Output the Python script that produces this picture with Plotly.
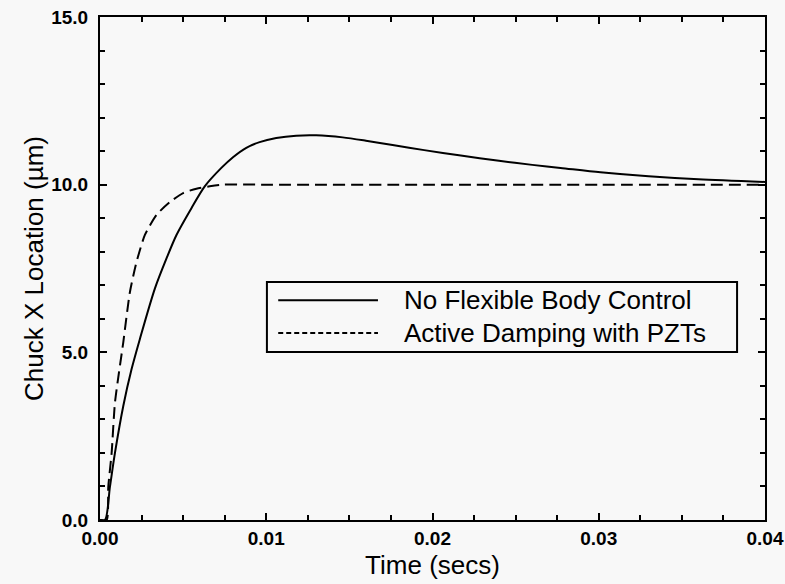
import plotly.graph_objects as go

# ---- data ----
t_nofbc = [0.0, 0.0003, 0.0006, 0.0009, 0.0014, 0.0019, 0.0024, 0.0033, 0.0040, 0.0046,
           0.0055, 0.0063, 0.0073, 0.0080, 0.0088, 0.0096, 0.0106, 0.0118, 0.0130, 0.0146,
           0.0160, 0.0176, 0.0195, 0.0217, 0.0240, 0.0260, 0.0277, 0.0301, 0.0330, 0.0360, 0.0400]
y_nofbc = [0.0, 0.0, 1.0, 2.0, 3.4, 4.5, 5.4, 6.9, 7.8, 8.5,
           9.3, 9.95, 10.5, 10.82, 11.1, 11.27, 11.39, 11.46, 11.47, 11.41,
           11.31, 11.18, 11.03, 10.87, 10.71, 10.59, 10.50, 10.37, 10.25, 10.16, 10.08]

t_pzt = [0.0, 0.0004, 0.0005, 0.0007, 0.0009, 0.0014, 0.0018, 0.0022, 0.0027, 0.0034,
         0.0042, 0.0050, 0.0058, 0.0066, 0.0074, 0.0100, 0.0200, 0.0300, 0.0400]
y_pzt = [0.0, 0.0, 1.0, 2.0, 3.5, 5.3, 6.8, 7.7, 8.5, 9.1,
         9.48, 9.75, 9.88, 9.95, 10.0, 10.0, 10.0, 10.0, 10.0]

x_ticks = [0.0, 0.01, 0.02, 0.03, 0.04]
x_ticklabels = ["0.00", "0.01", "0.02", "0.03", "0.04"]
y_ticks = [0.0, 5.0, 10.0, 15.0]
y_ticklabels = ["0.0", "5.0", "10.0", "15.0"]
legend_names = ["No Flexible Body Control", "Active Damping with PZTs"]

BG = "#f8f8f8"
FONT = "Liberation Sans, Arial, Helvetica, sans-serif"

fig = go.Figure()
fig.add_trace(go.Scatter(x=t_nofbc, y=y_nofbc, mode="lines", name=legend_names[0],
                         line=dict(color="black", width=2, shape="spline", smoothing=0.8),
                         showlegend=False))
fig.add_trace(go.Scatter(x=t_pzt, y=y_pzt, mode="lines", name=legend_names[1],
                         line=dict(color="black", width=2, dash="12px,6px", shape="spline",
                                   smoothing=0.6),
                         showlegend=False))

axis_common = dict(showgrid=False, zeroline=False, showline=True, linecolor="black",
                   linewidth=2, mirror="allticks", ticks="inside", tickcolor="black",
                   tickwidth=1.5, ticklen=7, automargin=False,
                   tickfont=dict(family=FONT, size=19, color="black", weight="bold"))

fig.update_xaxes(range=[0, 0.04], tickvals=x_ticks, ticktext=x_ticklabels,
                 title=dict(text="Time (secs)", font=dict(family=FONT, size=26, color="black"),
                            standoff=8),
                 minor=dict(dtick=0.0025, tick0=0, ticks="inside", ticklen=5,
                            tickcolor="black", tickwidth=1.5),
                 **axis_common)
fig.update_yaxes(range=[0, 15], tickvals=y_ticks, ticktext=y_ticklabels,
                 ticklabelstandoff=6,
                 title=dict(text="Chuck X Location (\u00b5m)",
                            font=dict(family=FONT, size=26, color="black"), standoff=0),
                 minor=dict(dtick=1.0, tick0=0, ticks="inside", ticklen=5,
                            tickcolor="black", tickwidth=1.5),
                 **axis_common)

# custom legend box (matching the long line samples in the reference)
shapes = [
    dict(type="rect", xref="paper", yref="paper", x0=0.251, x1=0.958, y0=0.334, y1=0.473,
         line=dict(color="black", width=2), fillcolor=BG, layer="above"),
    dict(type="line", xref="paper", yref="paper", x0=0.268, x1=0.418, y0=0.437, y1=0.437,
         line=dict(color="black", width=2)),
    dict(type="line", xref="paper", yref="paper", x0=0.268, x1=0.418, y0=0.372, y1=0.372,
         line=dict(color="black", width=2, dash="5px,3px")),
]
annotations = [
    dict(xref="paper", yref="paper", x=0.454, y=0.437, text=legend_names[0], showarrow=False,
         xanchor="left", yanchor="middle", font=dict(family=FONT, size=26, color="black")),
    dict(xref="paper", yref="paper", x=0.454, y=0.372, text=legend_names[1], showarrow=False,
         xanchor="left", yanchor="middle", font=dict(family=FONT, size=26, color="black")),
]

fig.update_layout(width=785, height=584, margin=dict(l=100, r=20, t=17, b=64),
                  paper_bgcolor=BG, plot_bgcolor=BG, showlegend=False,
                  shapes=shapes, annotations=annotations)

fig.write_html("out.html")
